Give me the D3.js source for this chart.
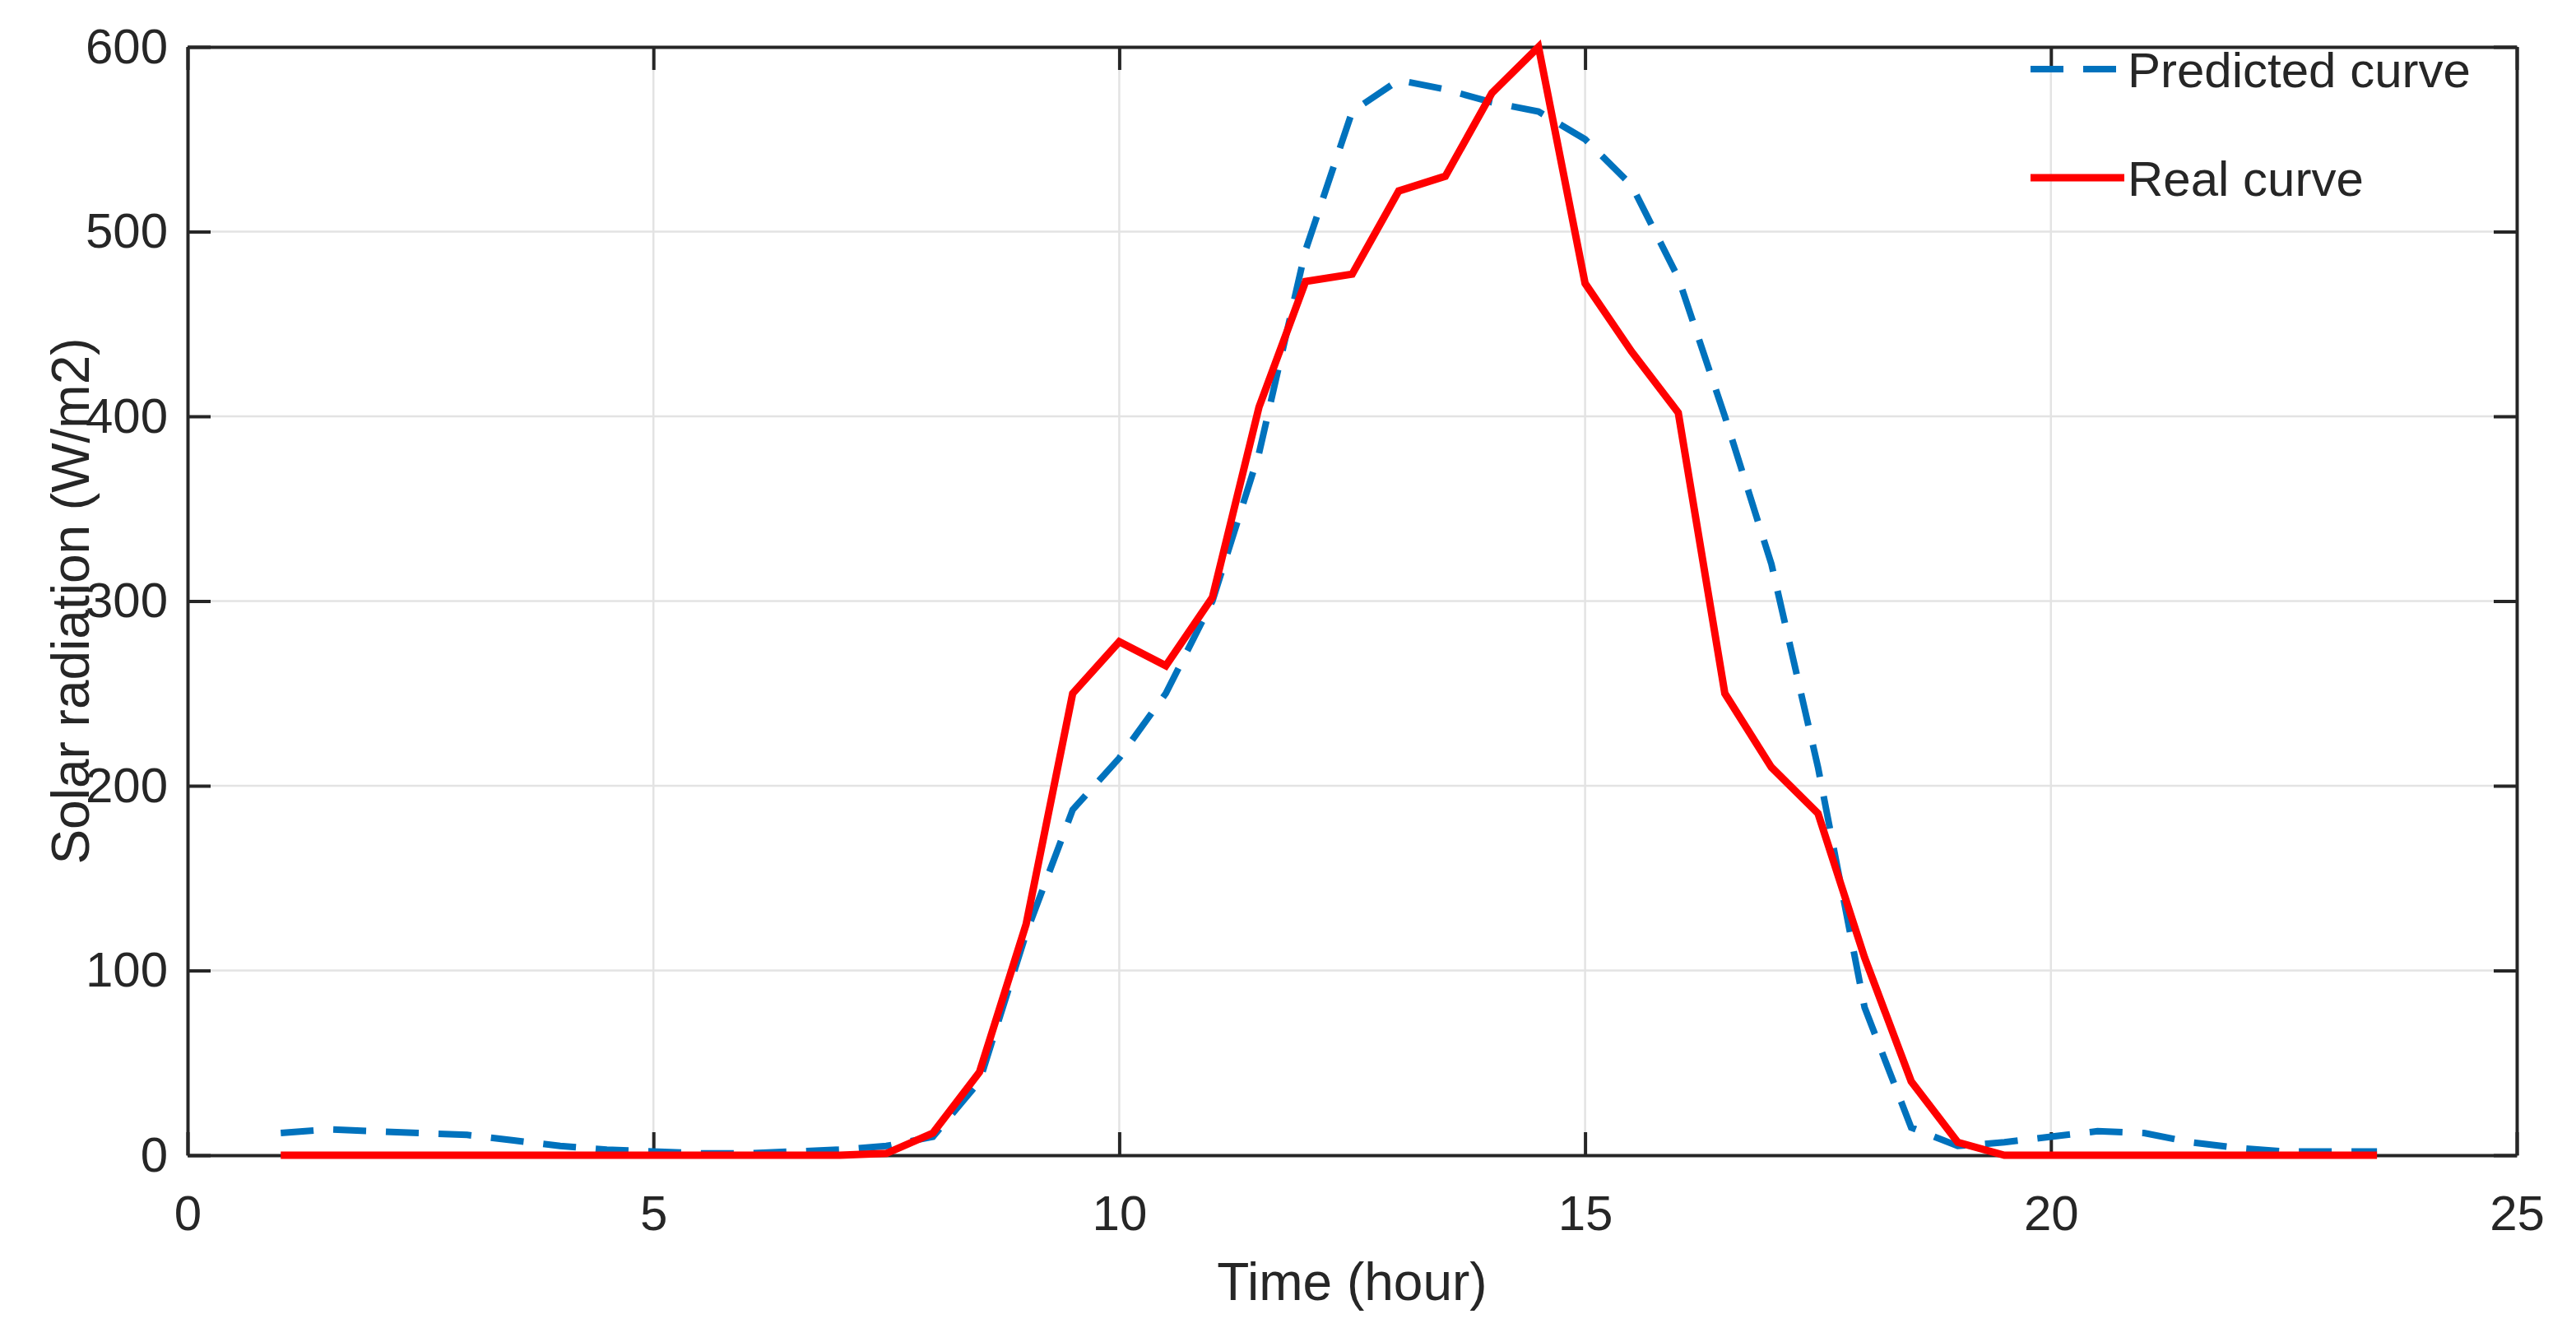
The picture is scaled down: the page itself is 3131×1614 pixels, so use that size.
<!DOCTYPE html>
<html><head><meta charset="utf-8">
<script src="https://cdn.jsdelivr.net/npm/d3@7"></script>
<style>body{margin:0;background:#fff}svg{display:block;font-family:Arial,"Liberation Sans",sans-serif}</style>
</head><body><svg id="c" width="3131" height="1614"></svg>
<script>
const hours = d3.range(1, 23.51, 0.5);
const realValues = [0,0,0,0,0,0,0,0,0,0,0,0,0,1,12,45,125,250,278,265,302,405,473,477,522,530,575,600,472,435,402,250,210,185,107,40,7,0,0,0,0,0,0,0,0,0];
const predictedValues = [12,14,13,12,11,8,5,3,2,1,1,2,3,5,10,40,120,187,215,250,300,380,490,565,582,577,570,565,550,525,475,400,320,210,80,15,5,7,10,13,12,7,4,2,2,2];
const xTicks = [0,5,10,15,20,25];
const yTicks = [0,100,200,300,400,500,600];
const seriesNames = ["Predicted curve","Real curve"];

const L=228,T=57,R=3059,B=1404;
const svg=d3.select("#c");
const x=d3.scaleLinear().domain([0,25]).range([L,R]);
const y=d3.scaleLinear().domain([0,600]).range([B,T]);
const g=svg.append("g");
g.selectAll(".gx").data(xTicks.slice(1,-1)).join("line").attr("x1",d=>x(d)).attr("x2",d=>x(d)).attr("y1",T).attr("y2",B).attr("stroke","#e3e3e3").attr("stroke-width",2.5);
g.selectAll(".gy").data(yTicks.slice(1,-1)).join("line").attr("y1",d=>y(d)).attr("y2",d=>y(d)).attr("x1",L).attr("x2",R).attr("stroke","#e3e3e3").attr("stroke-width",2.5);
const xa=svg.append("g").attr("transform",`translate(0,${B})`).call(d3.axisBottom(x).tickValues(xTicks).tickSizeInner(-28).tickSizeOuter(0).tickPadding(48));
const xt=svg.append("g").attr("transform",`translate(0,${T})`).call(d3.axisTop(x).tickValues(xTicks).tickSizeInner(-28).tickSizeOuter(0).tickFormat(""));
const ya=svg.append("g").attr("transform",`translate(${L},0)`).call(d3.axisLeft(y).tickValues(yTicks).tickSizeInner(-28).tickSizeOuter(0).tickPadding(24));
const yr=svg.append("g").attr("transform",`translate(${R},0)`).call(d3.axisRight(y).tickValues(yTicks).tickSizeInner(-28).tickSizeOuter(0).tickFormat(""));
[xa,xt,ya,yr].forEach(a=>{a.selectAll("path,line").attr("stroke","#262626").attr("stroke-width",4);a.selectAll("text").attr("font-size",60).attr("fill","#262626");});
const line=d3.line().x((d,i)=>x(hours[i])).y(d=>y(d));
svg.append("path").datum(predictedValues).attr("d",line).attr("fill","none").attr("stroke","#0072BD").attr("stroke-width",8).attr("stroke-dasharray","40,24");
svg.append("path").datum(realValues).attr("d",line).attr("fill","none").attr("stroke","#FF0000").attr("stroke-width",9);
svg.append("text").attr("x",(L+R)/2).attr("y",1580).attr("text-anchor","middle").attr("font-size",64).attr("fill","#262626").text("Time (hour)");
svg.append("text").attr("transform",`translate(108,${(T+B)/2}) rotate(-90)`).attr("text-anchor","middle").attr("font-size",64).attr("fill","#262626").text("Solar radiation (W/m2)");
const lg=svg.append("g");
lg.append("line").attr("x1",2468).attr("x2",2582).attr("y1",84).attr("y2",84).attr("stroke","#0072BD").attr("stroke-width",8).attr("stroke-dasharray","40,24");
lg.append("line").attr("x1",2468).attr("x2",2582).attr("y1",216).attr("y2",216).attr("stroke","#FF0000").attr("stroke-width",9);
lg.append("text").attr("x",2586).attr("y",106).attr("font-size",60).attr("fill","#262626").text(seriesNames[0]);
lg.append("text").attr("x",2586).attr("y",238).attr("font-size",60).attr("fill","#262626").text(seriesNames[1]);
</script></body></html>
